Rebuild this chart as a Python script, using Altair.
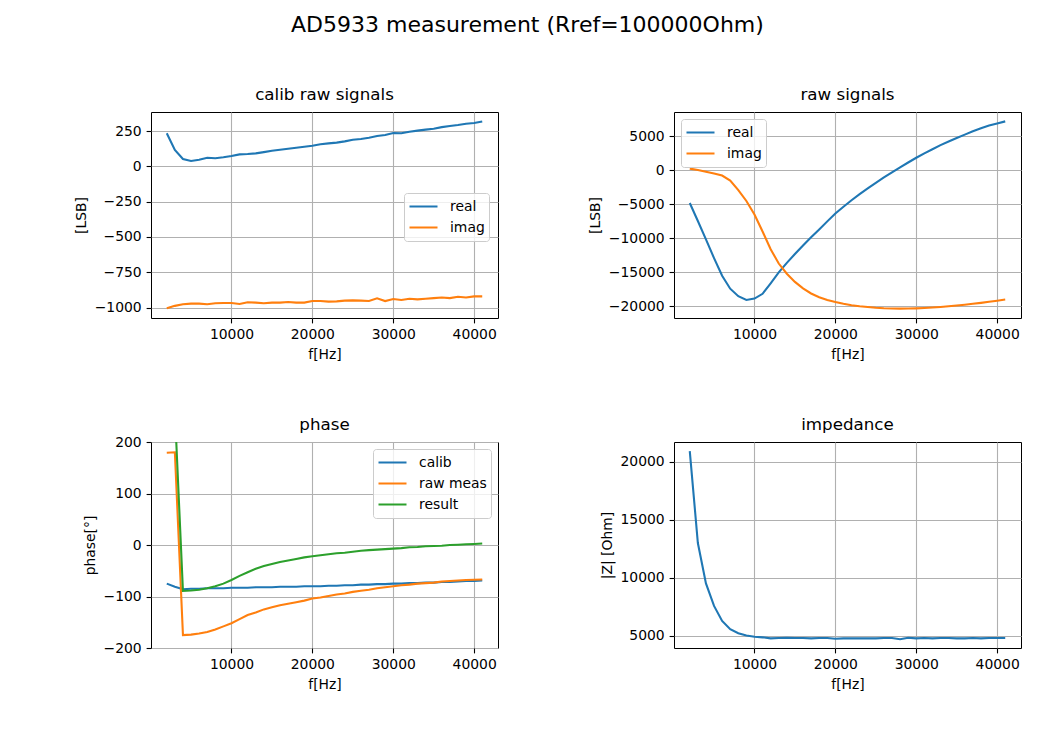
import altair as alt
import pandas as pd

# ---------------- data ----------------
FREQ = [2000, 3000, 4000, 5000, 6000, 7000, 8000, 9000, 10000, 11000,
        12000, 13000, 14000, 15000, 16000, 17000, 18000, 19000, 20000, 21000,
        22000, 23000, 24000, 25000, 26000, 27000, 28000, 29000, 30000, 31000,
        32000, 33000, 34000, 35000, 36000, 37000, 38000, 39000, 40000, 41000]

CALIB_REAL = [234, 116, 52, 38, 47, 61, 57, 64, 73, 85,
              87, 92, 101, 111, 118, 125, 132, 139, 146, 156,
              163, 168, 177, 189, 194, 203, 215, 222, 236, 234,
              245, 253, 260, 267, 278, 286, 293, 302, 307, 318]
CALIB_IMAG = [-1005, -988, -977, -972, -972, -977, -970, -968, -968, -975,
              -963, -965, -970, -965, -965, -961, -965, -965, -954, -954,
              -958, -956, -951, -949, -951, -954, -935, -954, -940, -947,
              -938, -942, -938, -933, -929, -933, -924, -929, -921, -921]

RAW_REAL = [-4800, -7450, -10150, -12900, -15500, -17400, -18500, -19050, -18850, -18150,
            -16600, -15000, -13600, -12300, -11050, -9850, -8700, -7500, -6350, -5350,
            -4400, -3500, -2650, -1850, -1050, -300, 450, 1150, 1850, 2500,
            3100, 3700, 4250, 4750, 5250, 5750, 6200, 6600, 6900, 7200]
RAW_IMAG = [250, 50, -220, -470, -770, -1500, -2900, -4500, -6500, -9000,
            -11600, -13700, -15200, -16400, -17350, -18100, -18650, -19050, -19370, -19620,
            -19820, -19980, -20100, -20200, -20270, -20310, -20330, -20320, -20290, -20240,
            -20170, -20080, -19980, -19870, -19750, -19620, -19480, -19330, -19170, -19000]

PHASE_CALIB = [-75, -81, -86, -85, -85, -84, -84, -84, -83, -83,
               -83, -82, -82, -82, -81, -81, -81, -80, -80, -80,
               -79, -79, -78, -78, -77, -77, -76, -76, -75, -75,
               -74, -74, -73, -73, -72, -72, -71, -70, -70, -69]
PHASE_RAW = [179, 180, -175, -174, -172, -169, -164, -158, -152, -144,
             -136, -131, -125, -121, -117, -114, -111, -108, -104, -102,
             -99, -96, -94, -91, -89, -87, -84, -82, -80, -78,
             -77, -75, -74, -73, -71, -70, -69, -68, -67.5, -67]
PHASE_RESULT = [254, 261, -89, -88.5, -87, -84, -80, -75, -68, -60,
                -53, -46, -41, -37, -33, -30, -27, -24, -22, -20,
                -18, -16, -15, -13, -11, -10, -9, -8, -7, -6,
                -4.5, -4, -2.5, -2, -1.3, 0, 0.6, 1.3, 2, 3]

IMPEDANCE = [20930, 13000, 9520, 7570, 6280, 5560, 5220, 5020, 4910, 4860,
             4770, 4800, 4830, 4800, 4800, 4770, 4800, 4800, 4740, 4770,
             4770, 4770, 4770, 4770, 4800, 4800, 4690, 4830, 4770, 4800,
             4770, 4800, 4800, 4770, 4770, 4800, 4770, 4800, 4800, 4800]

X_TICKS = [10000, 20000, 30000, 40000]
Y1_TICKS = [-1000, -750, -500, -250, 0, 250]
Y2_TICKS = [-20000, -15000, -10000, -5000, 0, 5000]
Y3_TICKS = [-200, -100, 0, 100, 200]
Y4_TICKS = [5000, 10000, 15000, 20000]

BLUE, ORANGE, GREEN = "#1f77b4", "#ff7f0e", "#2ca02c"
FONT = "DejaVu Sans"
W, H = 347, 206


def long_df(series):
    rows = []
    for name, vals in series:
        for f, v in zip(FREQ, vals):
            rows.append({"f": f, "v": v, "s": name})
    return pd.DataFrame(rows)


def make_legend(x, y):
    return alt.Legend(
        orient="none", legendX=x, legendY=y, title=None,
        symbolType="stroke", symbolSize=784, symbolStrokeWidth=2.08,
        labelFont=FONT, labelFontSize=13.9, labelColor="black", labelOffset=11,
        fillColor="rgba(255,255,255,0.8)", strokeColor="#cccccc", cornerRadius=3,
        padding=4, clipHeight=19, rowPadding=2,
    )


def panel(series, title, ytitle, ydomain, yticks, legend=None, clip=False,
          title_offset=8.3):
    names = [s[0] for s in series]
    colors = [s[2] for s in series]
    df = long_df([(s[0], s[1]) for s in series])
    x = alt.X("f:Q", scale=alt.Scale(domain=[50, 42950], nice=False, zero=False),
              axis=alt.Axis(values=X_TICKS, format="d", title="f[Hz]"))
    y = alt.Y("v:Q", scale=alt.Scale(domain=ydomain, nice=False, zero=False),
              axis=alt.Axis(values=yticks, format="d", title=ytitle))
    color = alt.Color("s:N", scale=alt.Scale(domain=names, range=colors),
                      legend=legend)
    return (
        alt.Chart(df, title=alt.TitleParams(title, offset=title_offset))
        .mark_line(strokeWidth=2.08, clip=clip)
        .encode(x=x, y=y, color=color)
        .properties(width=W, height=H)
    )


p1 = panel([("real", CALIB_REAL, BLUE), ("imag", CALIB_IMAG, ORANGE)],
           "calib raw signals", "[LSB]", [-1074, 385], Y1_TICKS,
           legend=make_legend(253, 81))
p2 = panel([("real", RAW_REAL, BLUE), ("imag", RAW_IMAG, ORANGE)],
           "raw signals", "[LSB]", [-21707, 8577], Y2_TICKS,
           legend=make_legend(7, 7))
p3 = panel([("calib", PHASE_CALIB, BLUE), ("raw meas", PHASE_RAW, ORANGE),
            ("result", PHASE_RESULT, GREEN)],
           "phase", "phase[°]", [-200, 200], Y3_TICKS,
           legend=make_legend(222, 7), clip=True, title_offset=1.3)
p4 = panel([("Z", IMPEDANCE, BLUE)],
           "impedance", "|Z| [Ohm]", [3940, 21720], Y4_TICKS, legend=None)

chart = (
    alt.concat(p1, p2, p3, p4, columns=2, spacing={"row": 54, "column": 89})
    .resolve_scale(color="independent")
    .resolve_legend(color="independent")
    .properties(
        title=alt.TitleParams("AD5933 measurement (Rref=100000Ohm)",
                              fontSize=22, anchor="start", dx=140, offset=50),
        padding={"left": 66, "top": 5, "right": 5, "bottom": 5},
        background="white",
    )
    .configure_view(stroke="black", strokeWidth=1)
    .configure_axis(
        labelFont=FONT, labelFontSize=13.9, labelColor="black",
        titleFont=FONT, titleFontSize=13.9, titleFontWeight="normal", titleColor="black",
        tickColor="black", tickSize=4.9, tickWidth=1.1, labelPadding=4.9,
        titlePadding=5.5, domain=False, grid=True, gridColor="#b0b0b0", gridWidth=1.1,
    )
    .configure_title(font=FONT, fontSize=16.7, fontWeight="normal", color="black",
                     frame="group", baseline="alphabetic", offset=8.3)
)

chart.save("out.html", embed_options={"renderer": "svg", "actions": False})
